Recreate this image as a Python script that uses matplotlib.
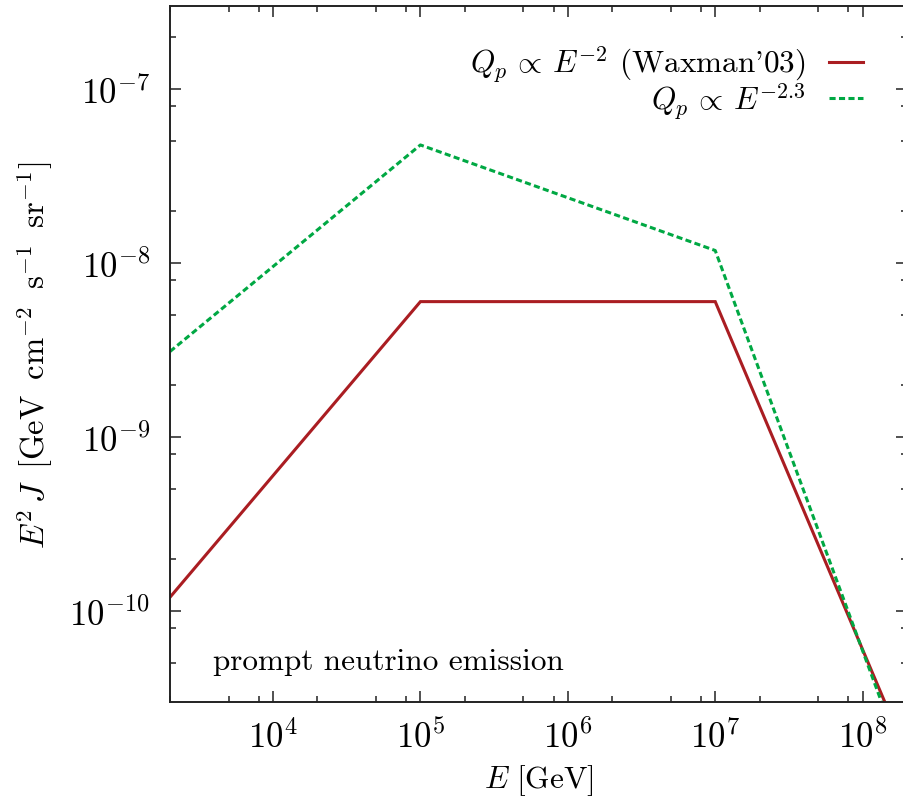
import matplotlib
matplotlib.use("Agg")
import matplotlib.pyplot as plt
from matplotlib.ticker import LogLocator, NullFormatter

plt.rcParams.update({
    "font.family": "serif",
    "font.serif": ["cmr10"],
    "mathtext.fontset": "cm",
    "axes.formatter.use_mathtext": True,
    "axes.unicode_minus": True,
    "font.size": 22,
})

# Break points of the prompt neutrino spectra (E in GeV, E^2 J in GeV cm^-2 s^-1 sr^-1)
energy = [2e3, 1e5, 1e7, 2e8]
flux_waxman = [1.2e-10, 6.0e-9, 6.0e-9, 1.5e-11]
flux_steep = [3.1e-9, 4.77e-8, 1.18e-8, 1.2e-11]

label_waxman = r"$Q_p \,\propto\, E^{-2}$ (Waxman'03)"
label_steep = r"$Q_p \,\propto\, E^{-2.3}$"

xlim = (2e3, 2e8)
ylim = (3e-11, 3e-7)

W, H = 904, 803
fig = plt.figure(figsize=(W / 100, H / 100), dpi=100)
left, right, bottom, top = 170, 907, 703, 7
ax = fig.add_axes([left / W, 1 - bottom / H, (right - left) / W, (bottom - top) / H])

red = "#AA1D22"
green = "#00A843"
ax.plot(energy, flux_waxman, color=red, lw=2.2, label=label_waxman, solid_joinstyle="miter")
ax.plot(energy, flux_steep, color=green, lw=2.2, dashes=(2.0, 1.1), label=label_steep)

ax.set_xscale("log")
ax.set_yscale("log")
ax.set_xlim(*xlim)
ax.set_ylim(*ylim)

for axis in (ax.xaxis, ax.yaxis):
    axis.set_major_locator(LogLocator(base=10, numticks=20))
    axis.set_minor_locator(LogLocator(base=10, subs=(2, 5, 8), numticks=20))
    axis.set_minor_formatter(NullFormatter())

edge = "#222222"
for s in ax.spines.values():
    s.set_linewidth(1.4)
    s.set_color(edge)
ax.tick_params(which="both", direction="in", top=True, right=True, color=edge, width=1.1)
ax.tick_params(which="major", length=8)
ax.tick_params(which="minor", length=4)
ax.tick_params(axis="y", which="major", pad=14.5, labelsize=25)
ax.tick_params(axis="x", which="major", pad=12, labelsize=25)

ax.set_xlabel(r"$E\ [\mathrm{GeV}]$", fontsize=22.5, labelpad=6)
ax.set_ylabel(r"$E^2\,J\;\; [\mathrm{GeV\;\; cm^{-2}\;\; s^{-1}\;\; sr^{-1}}]$",
              fontsize=23.5, labelpad=10)

ax.text((213 - left) / (right - left), 0.047, "prompt neutrino emission",
        transform=ax.transAxes, fontsize=22.5, ha="left", va="baseline")

ax.legend(loc="upper right", bbox_to_anchor=(1.0, 1.0 + 6 / (bottom - top)),
          frameon=False, markerfirst=False, fontsize=22.5,
          handlelength=1.1, handletextpad=0.75, labelspacing=-0.12,
          borderaxespad=1.0, borderpad=0.4)

fig.savefig("out.png", dpi=100)
